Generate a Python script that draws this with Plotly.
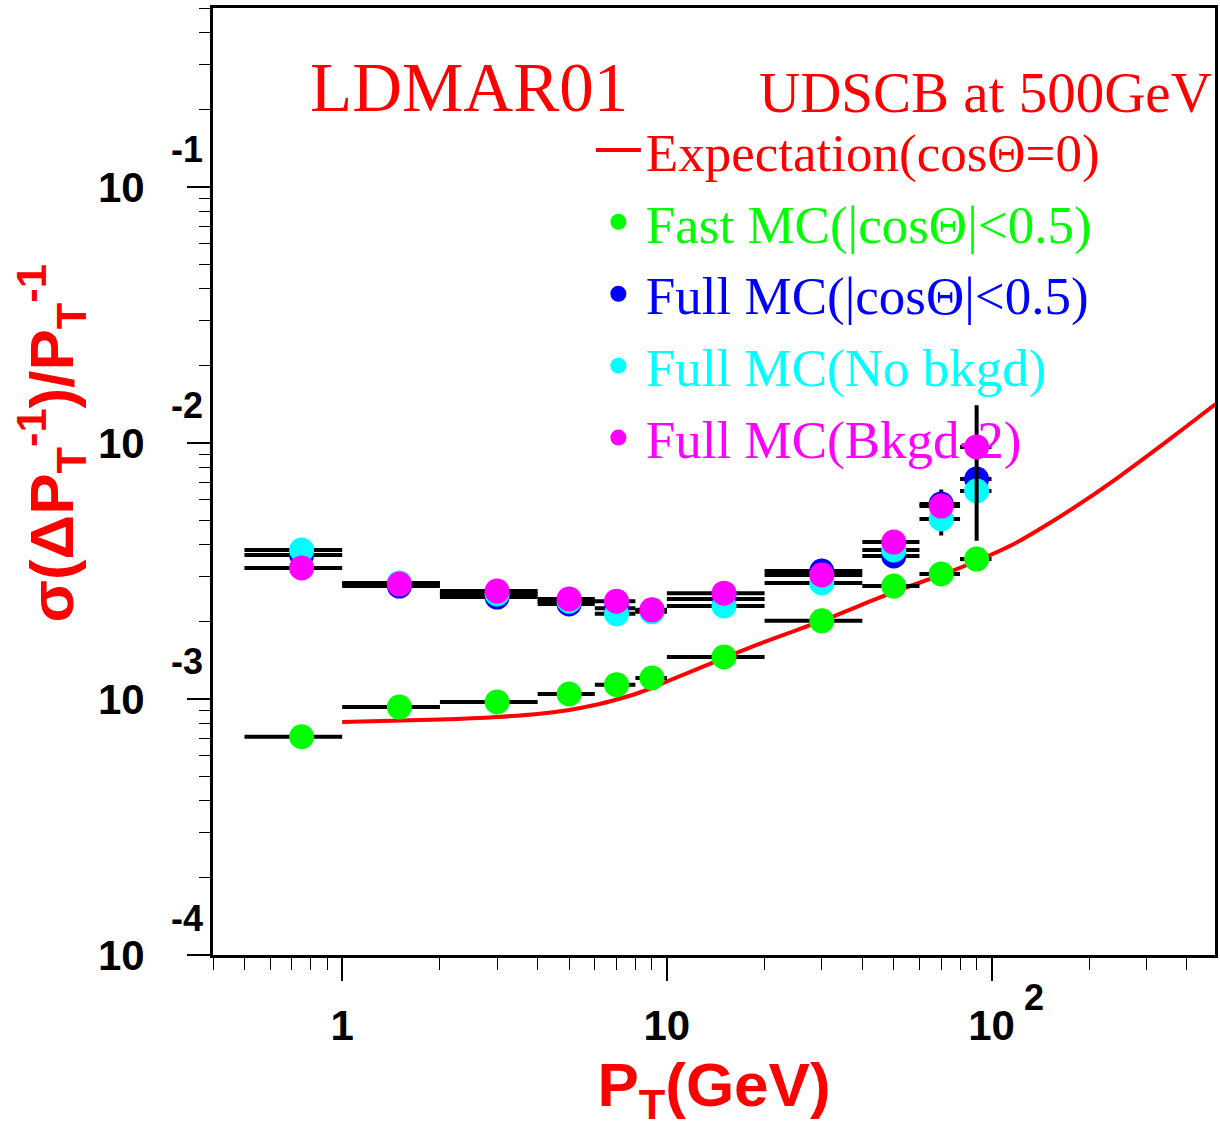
import math
import plotly.graph_objects as go

# ---------------- data ----------------
pt = [0.75, 1.5, 3, 5, 7, 9, 15, 30, 50, 70, 90]
pt_err = [0.25, 0.5, 1, 1, 1, 1, 5, 10, 10, 10, 10]

fast_mc = [7.12e-4, 9.30e-4, 9.73e-4, 1.046e-3, 1.137e-3, 1.208e-3, 1.46e-3, 2.02e-3, 2.76e-3, 3.08e-3, 3.52e-3]
fast_mc_err = [0, 0, 0, 0, 0, 0, 0, 0, 0, 0, 0]

full_mc = [3.65e-3, 2.76e-3, 2.50e-3, 2.35e-3, 2.26e-3, 2.22e-3, 2.46e-3, 3.16e-3, 3.62e-3, 5.78e-3, 7.23e-3]
full_mc_err = [0, 0, 0, 0, 0, 0, 0, 0, 0, 0.8e-3, 0.4e-3]

no_bkgd = [3.82e-3, 2.84e-3, 2.57e-3, 2.41e-3, 2.15e-3, 2.19e-3, 2.31e-3, 2.84e-3, 3.82e-3, 5.05e-3, 6.49e-3]
no_bkgd_err = [0, 0, 0, 0, 0, 0, 0, 0, 0, 0.7e-3, 0.4e-3]

bkgd2 = [3.25e-3, 2.81e-3, 2.64e-3, 2.46e-3, 2.41e-3, 2.23e-3, 2.59e-3, 3.05e-3, 4.10e-3, 5.67e-3, 9.65e-3]
bkgd2_err_hi = [0, 0, 0, 0, 0, 0, 0, 0, 0, 0.4e-3, 4.4e-3]
bkgd2_err_lo = [0, 0, 0, 0, 0, 0, 0, 0, 0, 0.4e-3, 5.5e-3]

exp_pt = [1, 2, 3, 4, 5, 6, 7, 8, 9, 10, 15, 20, 30, 50, 70, 90, 118, 152, 195, 250, 326, 400, 490]
exp_val = [8.13e-4, 8.32e-4, 8.51e-4, 8.74e-4, 9.06e-4, 9.47e-4, 9.95e-4, 1.046e-3, 1.104e-3, 1.170e-3,
           1.446e-3, 1.670e-3, 2.017e-3, 2.618e-3, 3.05e-3, 3.46e-3, 4.05e-3, 4.89e-3, 5.99e-3,
           7.46e-3, 9.56e-3, 1.165e-2, 1.420e-2]

x_tickvals = [1, 10, 100]
x_ticktext = ["1", "10", "10"]
x_exponents = {100: "2"}
y_tickvals = [1e-4, 1e-3, 1e-2, 1e-1]
y_ticktext = ["10", "10", "10", "10"]
y_exponents = ["-4", "-3", "-2", "-1"]

x_minor = [0.4, 0.5, 0.6, 0.7, 0.8, 0.9, 2, 3, 4, 5, 6, 7, 8, 9, 20, 30, 40, 50, 60, 70, 80, 90, 200, 300, 400]
y_minor = [m * 10 ** e for e in (-4, -3, -2, -1) for m in range(2, 10) if m * 10 ** e <= 0.5]

RED = "#ff0000"
GREEN = "#00ff00"
BLUE = "#0000ff"
CYAN = "#00ffff"
MAGENTA = "#ff00ff"

fig = go.Figure()

fig.add_trace(go.Scatter(
    x=exp_pt, y=exp_val, mode="lines", line=dict(color=RED, width=4, shape="spline", smoothing=0.8),
    name="<span style='color:#ff0000'>Expectation(cosΘ=0)</span>", legendrank=1,
))


def add_series(y, err_hi, err_lo, color, name, rank):
    fig.add_trace(go.Scatter(
        x=pt, y=y, mode="markers",
        marker=dict(color=color, size=25, line=dict(width=0)),
        error_x=dict(type="data", symmetric=True, array=pt_err, color="black", thickness=4, width=0),
        error_y=dict(type="data", symmetric=False, array=err_hi, arrayminus=err_lo,
                     color="black", thickness=4, width=0),
        name=f"<span style='color:{color}'>{name}</span>", legendrank=rank,
    ))


add_series(fast_mc, fast_mc_err, fast_mc_err, GREEN, "Fast MC(|cosΘ|&lt;0.5)", 2)
add_series(full_mc, full_mc_err, full_mc_err, BLUE, "Full MC(|cosΘ|&lt;0.5)", 3)
add_series(no_bkgd, no_bkgd_err, no_bkgd_err, CYAN, "Full MC(No bkgd)", 4)
add_series(bkgd2, bkgd2_err_hi, bkgd2_err_lo, MAGENTA, "Full MC(Bkgd-2)", 5)

W, H = 1220, 1128
L, R, T, B = 213, 2, 8, 173
pw, ph = W - L - R, H - T - B


def px_x(px):
    return (px - L) / pw


def px_y(py):
    return (H - B - py) / ph


tickfont = dict(family="Liberation Sans", size=42, color="black", weight="bold")
expfont = dict(family="Liberation Sans", size=36, color="black", weight="bold")

annotations = [
    dict(text="<b>σ(ΔP<sub>T</sub><sup>-1</sup>)/P<sub>T</sub><sup>-1</sup></b>",
         xref="paper", yref="paper", x=px_x(50), y=px_y(443),
         xanchor="center", yanchor="middle", textangle=-90, showarrow=False,
         font=dict(family="Liberation Sans", size=62, color=RED)),
    dict(text="LDMAR01", xref="paper", yref="paper", x=px_x(470), y=px_y(88),
         xanchor="center", yanchor="middle", showarrow=False,
         font=dict(family="Liberation Serif", size=69, color=RED)),
    dict(text="UDSCB at 500GeV", xref="paper", yref="paper", x=px_x(1217), y=px_y(93),
         xanchor="right", yanchor="middle", showarrow=False,
         font=dict(family="Liberation Serif", size=57, color=RED)),
]
for val, txt in zip(y_tickvals, y_exponents):
    annotations.append(dict(text=txt, xref="paper", yref="y", x=px_x(169), y=math.log10(val),
                            xanchor="left", yanchor="middle", yshift=37, showarrow=False,
                            font=expfont))
for val, txt in x_exponents.items():
    annotations.append(dict(text=txt, xref="x", yref="paper", x=math.log10(val), y=0,
                            xanchor="center", yanchor="middle", xshift=42, yshift=-42,
                            showarrow=False, font=expfont))

fig.update_layout(
    width=W, height=H,
    margin=dict(l=L, r=R, t=T, b=B),
    plot_bgcolor="white", paper_bgcolor="white",
    showlegend=True,
    legend=dict(
        x=px_x(592), y=px_y(109), xanchor="left", yanchor="top",
        bgcolor="rgba(0,0,0,0)", borderwidth=0,
        font=dict(family="Liberation Serif", size=53),
        itemsizing="trace", itemwidth=45, tracegroupgap=0,
    ),
    xaxis=dict(
        type="log", range=[math.log10(0.4), math.log10(488)],
        showline=True, linewidth=3, linecolor="black", mirror=True,
        showgrid=False, zeroline=False,
        ticks="outside", ticklen=23, tickwidth=1.5, tickcolor="black",
        tickmode="array", tickvals=x_tickvals, ticktext=x_ticktext,
        tickfont=tickfont, ticklabelstandoff=9,
        minor=dict(tickmode="array", tickvals=x_minor, ticks="outside", ticklen=12,
                   tickwidth=1.2, tickcolor="black", showgrid=False),
        title=dict(text="<b>P<sub>T</sub>(GeV)</b>",
                   font=dict(family="Liberation Sans", size=62, color=RED), standoff=20),
    ),
    yaxis=dict(
        type="log", range=[-4, math.log10(0.5)],
        showline=True, linewidth=3, linecolor="black", mirror=True,
        showgrid=False, zeroline=False,
        ticks="outside", ticklen=23, tickwidth=1.5, tickcolor="black",
        tickmode="array", tickvals=y_tickvals, ticktext=y_ticktext,
        tickfont=tickfont, ticklabelstandoff=34,
        minor=dict(tickmode="array", tickvals=y_minor, ticks="outside", ticklen=11,
                   tickwidth=1.2, tickcolor="black", showgrid=False),
    ),
    annotations=annotations,
)

fig.write_html("out.html", config={"displayModeBar": False},
               post_script="document.body.style.margin='0';")
